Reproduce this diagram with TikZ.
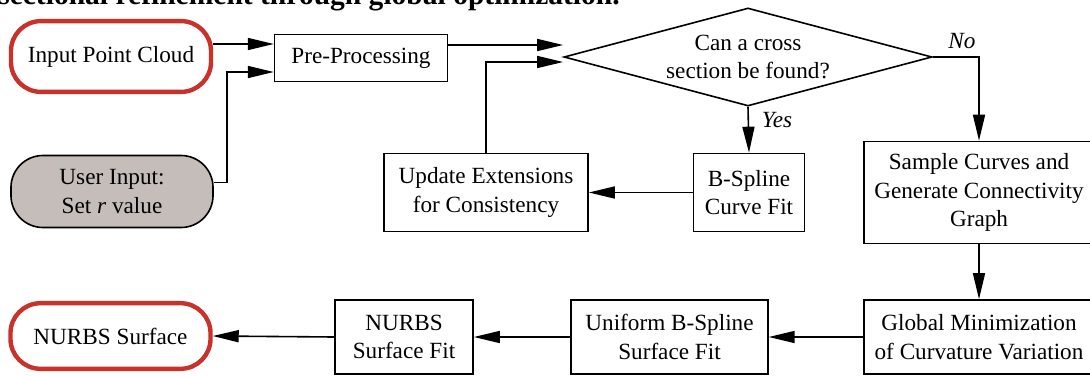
\documentclass[tikz,border=0pt]{standalone}
\usepackage{fontspec}
\setmainfont{Liberation Serif}
\usepackage{tikz}
\usetikzlibrary{positioning, calc, arrows.meta, shapes.geometric}
\definecolor{termred}{RGB}{200, 50, 42}
\definecolor{inputgray}{RGB}{196, 189, 185}
\tikzset{
    procbox/.style={
        draw=black, line width=0.04cm, fill=white, align=center, inner sep=2pt
    },
    flowarr/.style={
        -{Triangle[length=0.65cm, width=0.3cm]}, line width=0.04cm, black
    },
    branchlbl/.style={
        font=\fontsize{16.5}{20.5}\selectfont\itshape, inner sep=0pt
    }
}

\begin{document}
\begin{tikzpicture}[
        x=0.025cm, y=-0.025cm, % 1 unit = 1 px of the layout
        font=\fontsize{16.5}{20.5}\selectfont,
        % --- STYLE ---
        termbox/.style={draw=termred, line width=0.11cm, rounded corners=0.75cm, fill=white, align=center},
        userbox/.style={draw=black, line width=0.04cm, rounded corners=0.8cm, fill=inputgray, align=center},
        decision/.style={diamond, draw=black, line width=0.04cm, aspect=3.75, inner sep=0pt, align=center, minimum width=9.2cm, minimum height=2.45cm}
    ]
        \path[fill=white, use as bounding box] (0,0) rectangle (1090,375);

        % caption line, cut by the page edge
        \node[anchor=base west, inner sep=0pt, font=\fontsize{21}{24}\selectfont\bfseries] (cap) at (-2,5) {sectional refinement through global optimization.};

        % ==========================================
        % ROW 1: INPUT AND DECISION
        % ==========================================
        \node[termbox, minimum width=5.0cm, minimum height=1.77cm] (cloud) at (111,56.5) {Input Point Cloud};
        \node[procbox, minimum width=4.32cm, minimum height=1.18cm] (pre) at (361,58) {Pre-Processing};
        \node[userbox, minimum width=5.05cm, minimum height=1.8cm] (user) at (112,191.5) {User Input:\\Set \textit{r} value};
        \node[decision] (dia) at (748,57) {Can a cross\\section be found?};

        \coordinate (prein1) at ([yshift=0.35cm]pre.west);
        \coordinate (prein2) at ([yshift=-0.35cm]pre.west);
        \coordinate (diain1) at ([yshift=0.3cm]dia.west);
        \coordinate (diain2) at ([yshift=-0.125cm]dia.west);

        \draw[flowarr] (cloud.east |- prein1) -- (prein1);
        \draw[flowarr] ([yshift=0.225cm]user.east) -- ++(0.325cm,0) |- (prein2);
        \draw[flowarr] (pre.east |- diain1) -- (diain1);

        % ==========================================
        % ROW 2: CURVE FIT LOOP
        % ==========================================
        \node[procbox, minimum width=2.78cm, minimum height=1.95cm] (bfit) at (749,192.5) {B-Spline\\Curve Fit};
        \node[procbox, minimum width=5.1cm, minimum height=1.95cm] (upd) at (486,192.5) {Update Extensions\\for Consistency};
        \node[procbox, minimum width=5.75cm, minimum height=2.55cm] (samp) at (979,192.5) {Sample Curves and\\Generate Connectivity\\Graph};

        \draw[flowarr] (dia.south) -- (bfit.north);
        \node[branchlbl] (yes) at (777,120) {Yes};
        \draw[flowarr] (bfit.west) -- (upd.east);
        \draw[flowarr] (upd.north) |- (diain2);
        \draw[flowarr] (dia.east) -| (samp.north);
        \node[branchlbl] (no) at (962,41) {No};

        % ==========================================
        % ROW 3: SURFACE FIT
        % ==========================================
        \node[procbox, minimum width=5.75cm, minimum height=1.85cm] (glob) at (979,337) {Global Minimization\\of Curvature Variation};
        \node[procbox, minimum width=4.92cm, minimum height=1.85cm] (unif) at (669.5,337) {Uniform B-Spline\\Surface Fit};
        \node[procbox, minimum width=3.45cm, minimum height=1.85cm] (nfit) at (404,337) {NURBS\\Surface Fit};
        \node[termbox, minimum width=5.0cm, minimum height=1.64cm] (nsurf) at (110.5,336) {NURBS Surface};

        \draw[flowarr] (samp.south) -- (glob.north);
        \draw[flowarr] (glob.west) -- (unif.east);
        \draw[flowarr] (unif.west) -- (nfit.east);
        \draw[flowarr] (nfit.west) -- (nsurf.east);

    \end{tikzpicture}
\end{document}
